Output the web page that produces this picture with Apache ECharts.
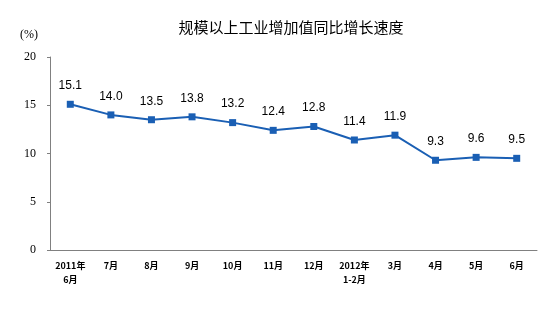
<!DOCTYPE html>
<html>
<head>
<meta charset="utf-8">
<script src="https://cdn.jsdelivr.net/npm/echarts@6/dist/echarts.min.js"></script>
<style>
  html, body { margin: 0; padding: 0; background: #fff; }
  #chart { width: 560px; height: 323px; }
</style>
</head>
<body>
<div id="chart"></div>
<script>
// Monthly year-on-year growth of industrial value added (%)
const months = ['2011年\n6月', '7月', '8月', '9月', '10月', '11月', '12月', '2012年\n1-2月', '3月', '4月', '5月', '6月'];
const growth = [15.1, 14.0, 13.5, 13.8, 13.2, 12.4, 12.8, 11.4, 11.9, 9.3, 9.6, 9.5];
const yTicks = [0, 5, 10, 15, 20];

const chart = echarts.init(document.getElementById('chart'));
chart.setOption({
  animation: false,
  backgroundColor: '#fff',
  title: {
    text: '规模以上工业增加值同比增长速度',
    left: 286, top: 15, textAlign: 'center',
    textStyle: { fontFamily: 'Noto Sans CJK SC', fontSize: 15, fontWeight: 'normal', color: '#000' }
  },
  graphic: [{
    type: 'text', left: 20, top: 29,
    style: { text: '(%)', font: '12px "Liberation Serif"', fill: '#000' }
  }],
  grid: { left: 50, right: 23, top: 57, bottom: 73 },
  xAxis: {
    type: 'category',
    data: months,
    boundaryGap: true,
    axisLine: { lineStyle: { color: '#808080', width: 1 } },
    axisTick: { inside: true, length: 4, lineStyle: { color: '#808080' } },
    axisLabel: {
      interval: 0, margin: 9, color: '#000',
      fontFamily: 'Noto Sans CJK SC', fontSize: 9, fontWeight: 'bold', lineHeight: 14
    }
  },
  yAxis: {
    type: 'value',
    min: yTicks[0], max: yTicks[yTicks.length - 1], interval: 5,
    splitLine: { show: false },
    axisLine: { show: true, lineStyle: { color: '#808080', width: 1 } },
    axisTick: { show: true, length: 3, lineStyle: { color: '#808080' } },
    axisLabel: { margin: 14, color: '#000', fontFamily: 'Liberation Serif', fontSize: 12 }
  },
  series: [{
    type: 'line',
    data: growth,
    symbol: 'rect',
    symbolSize: 7,
    itemStyle: { color: '#1a5fb4' },
    lineStyle: { color: '#1a5fb4', width: 2 },
    label: {
      show: true, position: 'top', distance: 9,
      formatter: p => p.value.toFixed(1),
      color: '#000', fontFamily: 'Liberation Sans', fontSize: 12
    }
  }]
});
</script>
</body>
</html>
